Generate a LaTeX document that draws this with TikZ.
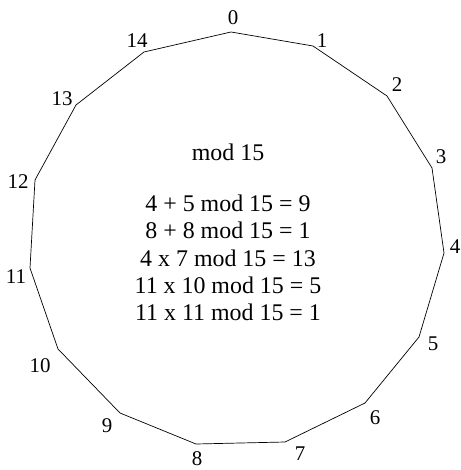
\documentclass[tikz,border=0pt]{standalone}
\usepackage{fontspec}
\setmainfont{Liberation Serif}
\begin{document}
\begin{tikzpicture}[x=1bp,y=-1bp,
  edge/.style={draw=black, line width=0.7bp, line join=miter},
  vlabel/.style={font=\fontsize{21}{24}\selectfont, inner sep=0pt, anchor=center},
  body/.style={font=\fontsize{24}{27.5}\selectfont, align=center, inner sep=0pt}]
\useasboundingbox[fill=white] (0,0) rectangle (461,470);
% vertices
\coordinate (v0) at (231,32);
\coordinate (v1) at (313,46);
\coordinate (v2) at (387,96);
\coordinate (v3) at (432,168);
\coordinate (v4) at (444,253);
\coordinate (v5) at (419,337);
\coordinate (v6) at (365,403);
\coordinate (v7) at (285,442);
\coordinate (v8) at (196,444);
\coordinate (v9) at (120,413);
\coordinate (v10) at (58,349);
\coordinate (v11) at (30,268);
\coordinate (v12) at (35,180);
\coordinate (v13) at (76,105);
\coordinate (v14) at (144,52);
\draw[edge] (v0) -- (v1) -- (v2) -- (v3) -- (v4) -- (v5) -- (v6) -- (v7) -- (v8)
  -- (v9) -- (v10) -- (v11) -- (v12) -- (v13) -- (v14) -- cycle;
% labels
\node[vlabel] (l0) at (233,18) {0};
\node[vlabel] (l1) at (322,41) {1};
\node[vlabel] (l2) at (397,85) {2};
\node[vlabel] (l3) at (441,157) {3};
\node[vlabel] (l4) at (455,247) {4};
\node[vlabel] (l5) at (433,344) {5};
\node[vlabel] (l6) at (375,418) {6};
\node[vlabel] (l7) at (300,454) {7};
\node[vlabel] (l8) at (197,459) {8};
\node[vlabel] (l9) at (107,426) {9};
\node[vlabel] (l10) at (40,366) {10};
\node[vlabel] (l11) at (16,277) {11};
\node[vlabel] (l12) at (18,182) {12};
\node[vlabel] (l13) at (62,99) {13};
\node[vlabel] (l14) at (137,41) {14};
% body text
\node[body] (title) at (228,152) {mod 15};
\node[body] (eqs) at (228,258) {4 + 5 mod 15 = 9\\8 + 8 mod 15 = 1\\4 x 7 mod 15 = 13\\11 x 10 mod 15 = 5\\11 x 11 mod 15 = 1};
\end{tikzpicture}
\end{document}
